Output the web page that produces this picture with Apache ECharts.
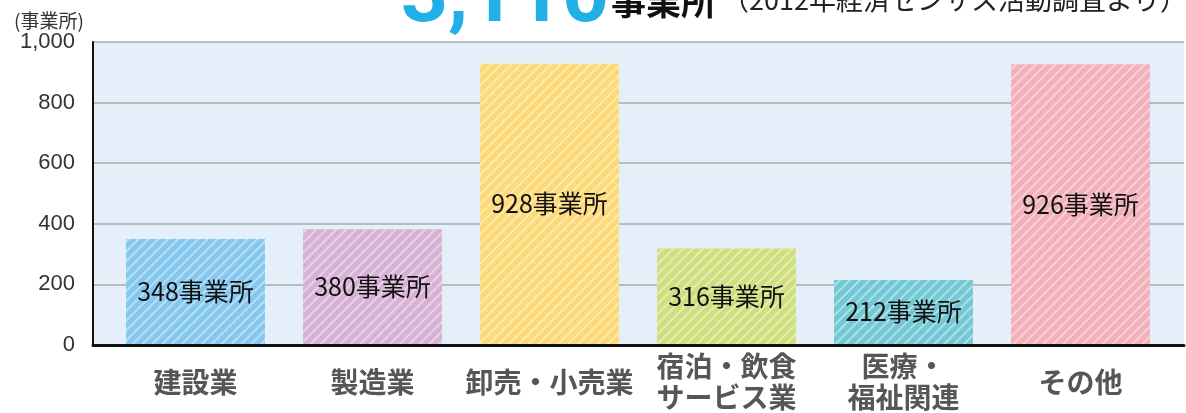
<!DOCTYPE html>
<html><head><meta charset="utf-8">
<script src="https://cdn.jsdelivr.net/npm/echarts@6/dist/echarts.min.js"></script>
<style>html,body{margin:0;padding:0;background:#fff}#c{width:1186px;height:413px}</style>
</head><body><div id="c"></div>
<script>
const categories = ['建設業', '製造業', '卸売・小売業', '宿泊・飲食\nサービス業', '医療・\n福祉関連', 'その他'];
const values = [348, 380, 928, 316, 212, 926];
const barColors = ['#84c8ef', '#d8b2d6', '#fdda78', '#d0df7e', '#72c8d4', '#f3b0ba'];
const yTicks = [0, 200, 400, 600, 800, 1000];
const totalText = '3,110';
const unitText = '事業所';
const sourceText = '（2012年経済センサス活動調査より）';
const yName = '(事業所)';
const labelSuffix = '事業所';

const FONT = '"Noto Sans CJK JP", "Noto Sans", sans-serif';
const chart = echarts.init(document.getElementById('c'), null, {renderer: 'canvas'});
const decal = {symbol: 'rect', symbolSize: 1, dashArrayX: [1, 0], dashArrayY: [1.5, 4.2], rotation: -Math.PI / 4, color: 'rgba(255,255,255,0.42)'};
chart.setOption({
  animation: false,
  textStyle: {fontFamily: FONT},
  grid: [
    {left: 93, right: 2, top: 42, bottom: 68, show: true, backgroundColor: '#e5eff9', borderWidth: 0},
    {left: 107, right: 17, top: 42, bottom: 68}
  ],
  graphic: [
    {type: 'text', silent: true, style: {text: totalText, x: 401, y: 0, font: 'bold 82px Roboto, sans-serif', fill: '#22aee6', verticalAlign: 'middle', align: 'left'}},
    {type: 'text', silent: true, style: {text: unitText, x: 611, y: 2, font: 'bold 35px ' + FONT, fill: '#111', verticalAlign: 'middle', align: 'left'}},
    {type: 'text', silent: true, style: {text: sourceText, x: 722, y: 0, font: '27px ' + FONT, fill: '#222', verticalAlign: 'middle', align: 'left'}},
    {type: 'text', silent: true, style: {text: yName, x: 14, y: 21, font: '19px ' + FONT, fill: '#333', verticalAlign: 'middle', align: 'left'}}
  ],
  xAxis: [
    {gridIndex: 0, type: 'value', min: 0, max: 1, axisLine: {show: true, onZero: false, lineStyle: {color: '#111', width: 3}},
      axisTick: {show: false}, axisLabel: {show: false}, splitLine: {show: false}},
    {gridIndex: 1, type: 'category', data: categories,
      axisLine: {show: false}, axisTick: {show: false},
      axisLabel: {interval: 0, margin: 38, verticalAlign: 'middle', fontSize: 28, fontWeight: 'bold', color: '#565656', lineHeight: 31, fontFamily: FONT}}
  ],
  yAxis: [
    {gridIndex: 0, type: 'value', min: 0, max: 1000, interval: 200,
      axisLine: {show: true, lineStyle: {color: '#111', width: 2}},
      axisTick: {show: false},
      splitLine: {lineStyle: {color: '#aaaaaa', width: 1.5}},
      axisLabel: {fontSize: 22, color: '#333', margin: 18, fontFamily: 'Liberation Sans, Arial, sans-serif',
        formatter: v => v.toLocaleString('en-US')}},
    {gridIndex: 1, type: 'value', min: 0, max: 1000, interval: 200, show: false}
  ],
  series: [{
    type: 'bar', xAxisIndex: 1, yAxisIndex: 1, barCategoryGap: '21.5%',
    data: values.map((v, i) => ({value: v, itemStyle: {color: barColors[i], decal: decal}})),
    label: {show: true, position: 'inside', color: '#111', fontSize: 25, fontFamily: FONT,
      formatter: p => p.value + labelSuffix}
  }]
});
</script></body></html>
